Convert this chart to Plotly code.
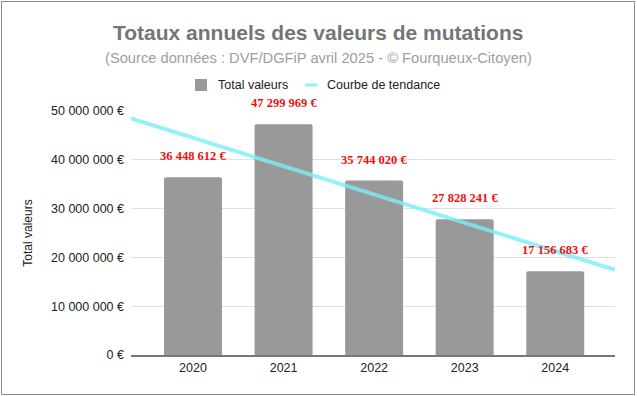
import numpy as np
import plotly.graph_objects as go

years = ["2020", "2021", "2022", "2023", "2024"]
values = [36448612, 47299969, 35744020, 27828241, 17156683]
value_labels = ["36 448 612 €", "47 299 969 €", "35 744 020 €", "27 828 241 €", "17 156 683 €"]
y_ticks = [0, 10000000, 20000000, 30000000, 40000000, 50000000]
y_tick_labels = ["0 €", "10 000 000 €", "20 000 000 €", "30 000 000 €", "40 000 000 €", "50 000 000 €"]
series_names = ["Total valeurs", "Courbe de tendance"]

W, H = 637, 396
L, R, T, B = 131, 22, 111, 41
x_range = [-0.685, 4.66]
pw = W - L - R
ph = H - T - B

def px_x(x):
    return (x - L) / pw

def px_y(y):
    return 1 + (T - y) / ph

BAR_COLOR = "#999999"
TREND_COLOR = "rgba(120,238,245,0.8)"

xs = np.arange(len(years))
slope, intercept = np.polyfit(xs, values, 1)
trend_x = np.array(x_range)
trend_y = slope * trend_x + intercept

fig = go.Figure()
fig.add_trace(go.Bar(
    x=xs, y=values, name=series_names[0], width=0.64,
    marker=dict(color=BAR_COLOR, line=dict(width=0)),
))
fig.add_trace(go.Scatter(
    x=trend_x, y=trend_y, mode="lines", name=series_names[1],
    line=dict(color=TREND_COLOR, width=4),
))

for x, v, t in zip(xs, values, value_labels):
    fig.add_annotation(x=x, y=v, text=t, showarrow=False, yanchor="bottom", yshift=12,
                       font=dict(family="Liberation Serif, Times New Roman, serif", size=12.5,
                                 color="#ee1111", weight="bold"))

# outer frame
fig.add_shape(type="rect", xref="paper", yref="paper",
              x0=px_x(1.5), x1=px_x(634.5), y0=px_y(394.5), y1=px_y(1.5),
              line=dict(color="#8a8a8a", width=1), layer="below")

# title and subtitle
fig.add_annotation(xref="paper", yref="paper", x=px_x(318), y=px_y(32), xanchor="center", yanchor="middle",
                   text="<b>Totaux annuels des valeurs de mutations</b>", showarrow=False,
                   font=dict(family="Arial, Liberation Sans", size=21, color="#757575"))
fig.add_annotation(xref="paper", yref="paper", x=px_x(318), y=px_y(58), xanchor="center", yanchor="middle",
                   text="(Source données : DVF/DGFiP avril 2025 - © Fourqueux-Citoyen)", showarrow=False,
                   font=dict(family="Arial, Liberation Sans", size=14.7, color="#9e9e9e"))

# manual legend
fig.add_shape(type="rect", xref="paper", yref="paper",
              x0=px_x(195), x1=px_x(207), y0=px_y(91), y1=px_y(79),
              fillcolor=BAR_COLOR, line=dict(width=0))
fig.add_annotation(xref="paper", yref="paper", x=px_x(216), y=px_y(85), xanchor="left", yanchor="middle",
                   text=series_names[0], showarrow=False,
                   font=dict(family="Arial, Liberation Sans", size=12.5, color="#222222"))
fig.add_shape(type="line", xref="paper", yref="paper",
              x0=px_x(305), x1=px_x(317), y0=px_y(85), y1=px_y(85),
              line=dict(color=TREND_COLOR, width=3))
fig.add_annotation(xref="paper", yref="paper", x=px_x(325), y=px_y(85), xanchor="left", yanchor="middle",
                   text=series_names[1], showarrow=False,
                   font=dict(family="Arial, Liberation Sans", size=12.5, color="#222222"))

fig.update_layout(
    width=W, height=H,
    margin=dict(l=L, r=R, t=T, b=B, pad=0, autoexpand=False),
    paper_bgcolor="white", plot_bgcolor="white",
    font=dict(family="Arial, Liberation Sans", size=12, color="#222222"),
    showlegend=False,
    barcornerradius=2,
    xaxis=dict(range=x_range, tickmode="array", tickvals=list(xs), ticktext=years,
               showgrid=False, zeroline=False, showline=True, linecolor="#777777", linewidth=2,
               ticks="", tickfont=dict(size=12.5, color="#222222"), fixedrange=True),
    yaxis=dict(range=[0, 50000000], tickmode="array", tickvals=y_ticks, ticktext=y_tick_labels,
               showgrid=True, gridcolor="#e0e0e0", gridwidth=1, zeroline=False,
               ticks="", ticklabelstandoff=6, tickfont=dict(size=12.5, color="#222222"),
               title=dict(text="Total valeurs", font=dict(size=12, color="#222222"), standoff=15),
               fixedrange=True),
)

fig.write_html("out.html", config={"displayModeBar": False},
               post_script="document.body.style.margin='0';document.body.style.overflow='hidden';")
